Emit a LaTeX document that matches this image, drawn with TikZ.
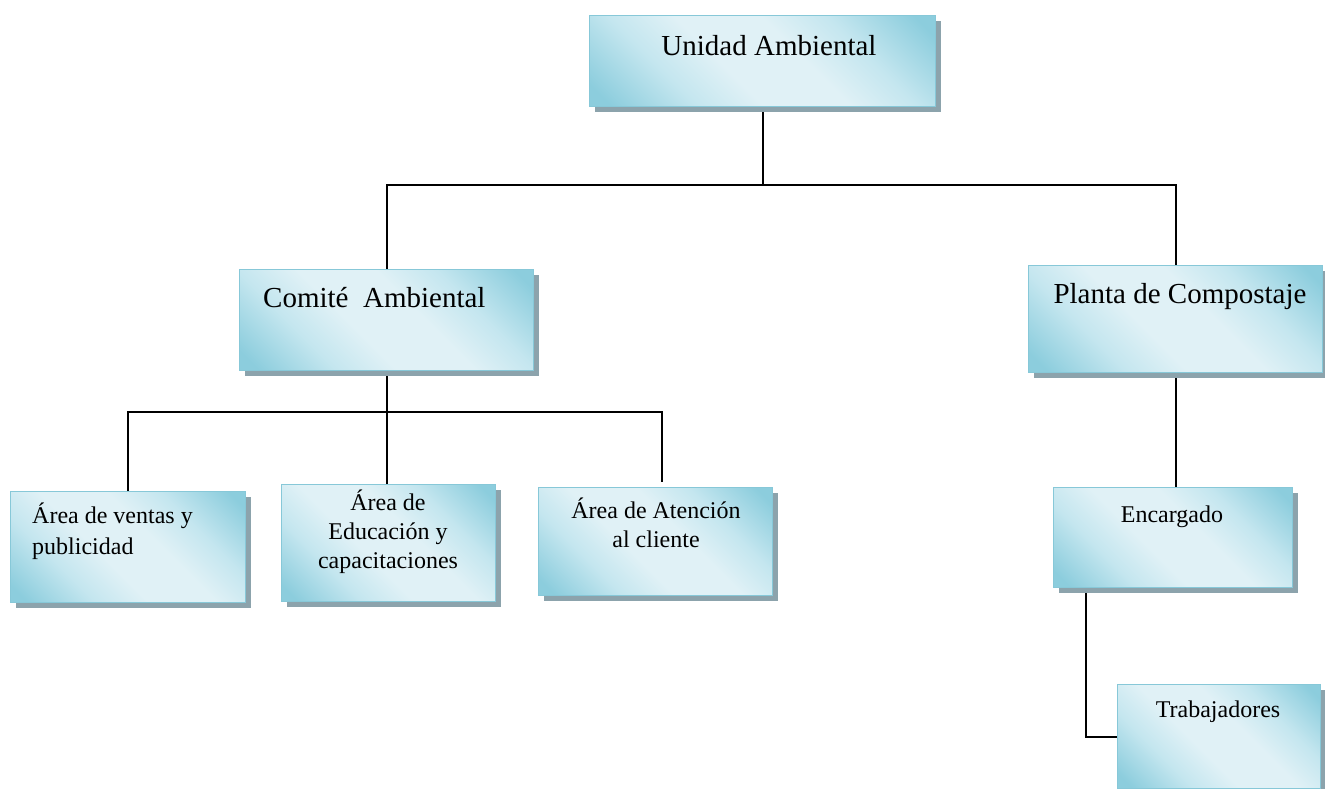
\documentclass[tikz,border=0pt]{standalone}
\usepackage{fontspec}
\setmainfont{Liberation Serif}
\usetikzlibrary{shadows,backgrounds,calc}

\definecolor{boxdark}{RGB}{140,205,221}
\definecolor{boxmid}{RGB}{196,230,239}
\definecolor{boxlight}{RGB}{224,241,246}
\definecolor{boxedge}{RGB}{135,200,216}
\definecolor{shadowc}{RGB}{140,163,172}

% soft diagonal band: darker toward two opposite corners
\pgfdeclarehorizontalshading{orgshade}{100bp}{%
  color(0bp)=(boxdark); color(18bp)=(boxdark); color(32bp)=(boxmid);
  color(43bp)=(boxlight); color(57bp)=(boxlight); color(68bp)=(boxmid);
  color(82bp)=(boxdark); color(100bp)=(boxdark)}

\tikzset{
  orgbox/.style={draw=boxedge, line width=1.2pt, inner sep=0pt, anchor=north west,
    shading=orgshade, shading angle=45,
    general shadow={fill=shadowc, shadow xshift=5pt, shadow yshift=-5pt}},
  link/.style={line width=2pt, black},
  big/.style={font=\fontsize{29}{34}\selectfont, inner sep=0pt},
  small/.style={font=\fontsize{24}{29}\selectfont, inner sep=0pt},
}

\begin{document}
\begin{tikzpicture}[x=1pt,y=-1pt]
\useasboundingbox (0,0) rectangle (1325,788);

% boxes
\node[orgbox, minimum width=346, minimum height=91]  (ua) at (589,15)  {};
\node[orgbox, minimum width=294, minimum height=101] (ca) at (239,269) {};
\node[orgbox, minimum width=294, minimum height=107] (pc) at (1028,265) {};
\node[orgbox, minimum width=235, minimum height=111] (av) at (10,491)  {};
\node[orgbox, minimum width=214, minimum height=117] (ed) at (281,484) {};
\node[orgbox, minimum width=234, minimum height=108] (at) at (538,487) {};
\node[orgbox, minimum width=239, minimum height=100] (en) at (1053,487) {};
\node[orgbox, minimum width=203, minimum height=104] (tr) at (1117,684) {};

% labels
\node[big, anchor=base] (ua-t) at (769,55) {Unidad Ambiental};
\node[big, anchor=base west] (ca-t) at (263,307) {Comité\ \ Ambiental};
\node[big, anchor=base] (pc-t) at (1180,303) {Planta de Compostaje};
\node[small, font=\fontsize{24}{31}\selectfont, anchor=base west] (av-t) at (32,523)
  {\begin{tabular}[t]{@{}l@{}}Área de ventas y\\publicidad\end{tabular}};
\node[small, anchor=base] (ed-t) at (388,510)
  {\begin{tabular}[t]{@{}c@{}}Área de\\Educación y\\capacitaciones\end{tabular}};
\node[small, anchor=base] (at-t) at (656,518)
  {\begin{tabular}[t]{@{}c@{}}Área de Atención\\al cliente\end{tabular}};
\node[small, anchor=base] (en-t) at (1172,522) {Encargado};
\node[small, anchor=base] (tr-t) at (1218,717) {Trabajadores};

% connectors
\coordinate (bus1) at (763,185);
\coordinate (bus2) at (386,412);
\coordinate (atc) at (662,482);
\coordinate (encx) at (1086,600);
\begin{scope}[on background layer]
\draw[link] (ua.south) -- (ua.south |- bus1);
\draw[link] (ca.north) |- (bus1) -| (pc.north);
\draw[link] (ca.south) -- (ca.south |- ed.north);
\draw[link] (av.north) |- (bus2) -| (atc);
\draw[link] (pc.south) -- (pc.south |- en.north);
\draw[link] (en.south -| encx) |- (tr.west);
\end{scope}
\end{tikzpicture}
\end{document}
